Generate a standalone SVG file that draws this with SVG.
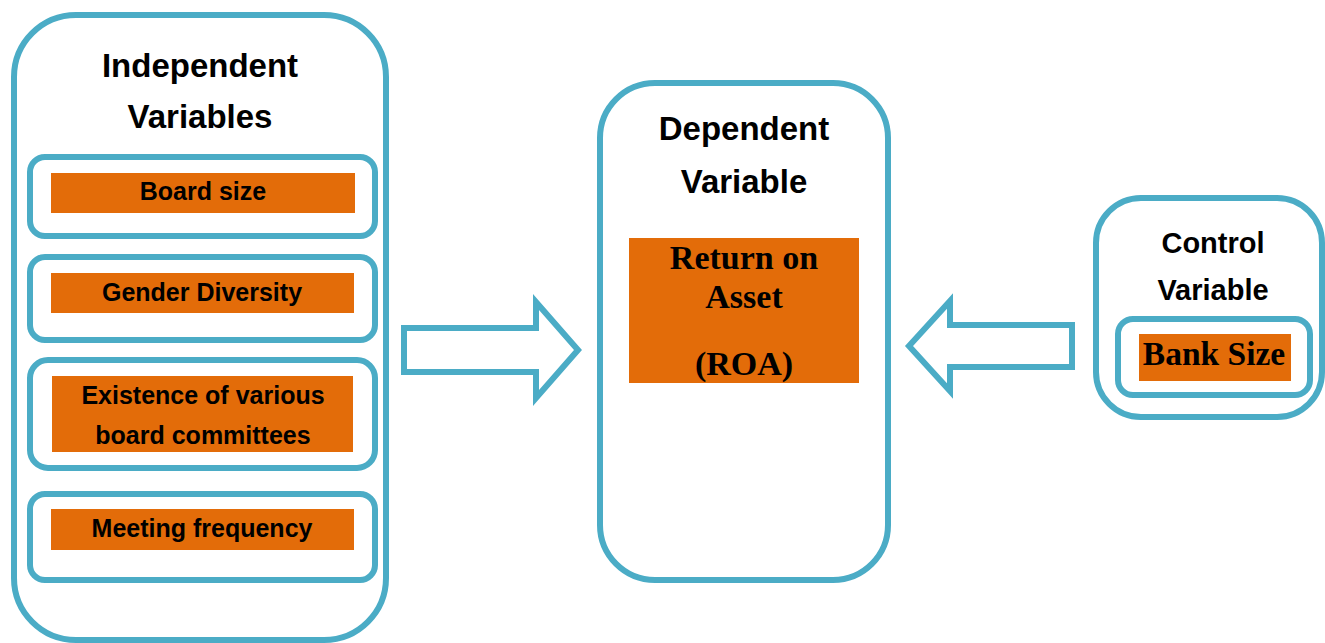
<svg xmlns="http://www.w3.org/2000/svg" width="1325" height="643" viewBox="0 0 1325 643">
<style>
.box{fill:#fff;stroke:#4BACC6;stroke-width:6}
.inner{fill:#fff;stroke:#4BACC6;stroke-width:6}
.fill{fill:#E36C09}
.hdr{font-family:"Liberation Sans",Arial,sans-serif;font-weight:bold;font-size:33px;fill:#000;text-anchor:middle}
.lbl{font-family:"Liberation Sans",Arial,sans-serif;font-weight:bold;font-size:25px;fill:#000;text-anchor:middle}
.ser{font-family:"Liberation Serif","Times New Roman",serif;font-weight:bold;font-size:34px;fill:#000;text-anchor:middle}
.arrow{fill:#fff;stroke:#4BACC6;stroke-width:6;stroke-linejoin:miter}
</style>
<rect width="1325" height="643" fill="#fff"/>
<g id="independent">
<rect class="box" x="14" y="15" width="372" height="625" rx="62"/>
<text class="hdr" x="200" y="77">Independent</text>
<text class="hdr" x="200" y="128">Variables</text>
<g id="board-size">
<rect class="inner" x="30" y="157" width="345" height="79" rx="15"/>
<rect class="fill" x="51" y="173" width="304" height="40"/>
<text class="lbl" x="203" y="200">Board size</text>
</g>
<g id="gender-diversity">
<rect class="inner" x="30" y="257" width="345" height="83" rx="15"/>
<rect class="fill" x="51" y="273" width="303" height="40"/>
<text class="lbl" x="202" y="301">Gender Diversity</text>
</g>
<g id="committees">
<rect class="inner" x="30" y="360" width="345" height="108" rx="18"/>
<rect class="fill" x="52" y="376" width="301" height="76"/>
<text class="lbl" x="203" y="404">Existence of various</text>
<text class="lbl" x="203" y="444">board committees</text>
</g>
<g id="meeting-frequency">
<rect class="inner" x="30" y="494" width="345" height="86" rx="15"/>
<rect class="fill" x="51" y="509" width="303" height="41"/>
<text class="lbl" x="202" y="537">Meeting frequency</text>
</g>
</g>
<g id="dependent">
<rect class="box" x="600" y="83" width="288" height="497" rx="55"/>
<text class="hdr" x="744" y="140">Dependent</text>
<text class="hdr" x="744" y="193">Variable</text>
<rect class="fill" x="629" y="238" width="230" height="145"/>
<text class="ser" x="744" y="269">Return on</text>
<text class="ser" x="744" y="308">Asset</text>
<text class="ser" x="744" y="375">(ROA)</text>
</g>
<g id="control">
<rect class="box" x="1096" y="198" width="226" height="219" rx="45"/>
<text class="hdr" x="1213" y="253" style="font-size:29px">Control</text>
<text class="hdr" x="1213" y="300" style="font-size:29px">Variable</text>
<g id="bank-size">
<rect class="inner" x="1118" y="319" width="192" height="76" rx="15"/>
<rect class="fill" x="1139" y="334" width="152" height="47"/>
<text class="ser" x="1214" y="365" style="font-size:33.5px">Bank Size</text>
</g>
</g>
<g id="connectors">
<path class="arrow" d="M404,328 L536,328 L536,302 L578,350 L536,398 L536,372 L404,372 Z"/>
<path class="arrow" d="M1072,325 L950,325 L950,301 L909,346 L950,391 L950,367 L1072,367 Z"/>
</g>
</svg>
